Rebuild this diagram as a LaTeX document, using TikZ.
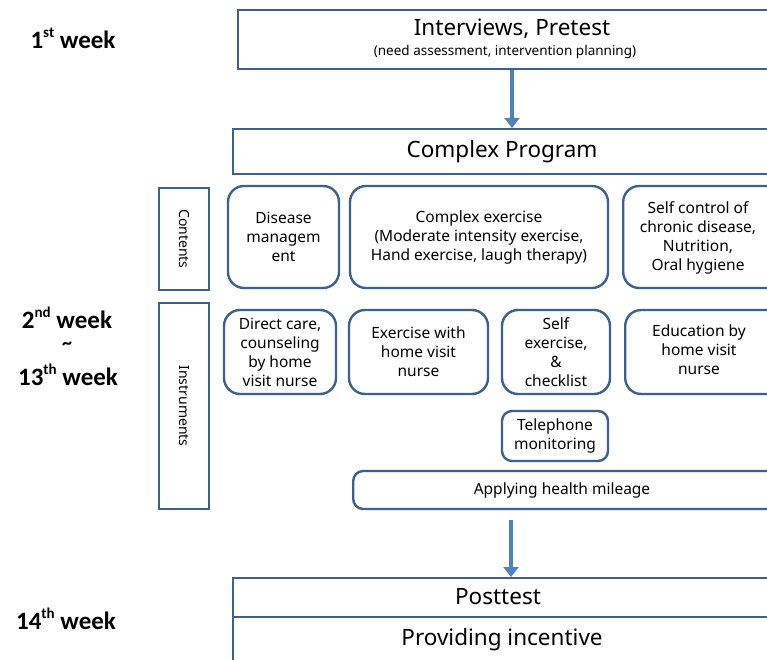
\documentclass[tikz,border=0pt]{standalone}
\usepackage{fontspec}
\setmainfont{Noto Sans}
\newfontfamily\weekfont{Carlito}
\usetikzlibrary{arrows.meta}
\definecolor{bord}{HTML}{3F5F8F}
\definecolor{arr}{HTML}{4F81BD}
\newcommand{\wsup}[1]{\raisebox{0.45em}{\fontsize{15}{15}\selectfont #1}}
\tikzset{
  sq/.style={draw=bord,line width=2.4pt,fill=white,inner sep=0pt},
  rbox/.style={draw=bord,line width=2.4pt,rounded corners=16pt,fill=white,inner sep=0pt,align=center,font=\fontsize{15.5}{19}\selectfont},
  btxt/.style={font=\fontsize{15.5}{19}\selectfont,align=center},
  wk/.style={font=\weekfont\bfseries\fontsize{25}{28}\selectfont,align=center,inner sep=0pt},
  flow/.style={draw=arr,line width=3.3pt,-{Triangle[length=10pt,width=15pt]}},
  side/.style={sq,font=\fontsize{14}{16}\selectfont,rotate=-90}
}
\begin{document}
\begin{tikzpicture}[x=1pt,y=-1pt]
\useasboundingbox (0,0) rectangle (767,660);
\clip (0,0) rectangle (767,660);
% week labels
\node[wk] (w1) at (73,38) {1\wsup{st} week};
\node[wk] (w2a) at (67,318) {2\wsup{nd} week};
\node[wk,font=\weekfont\bfseries\fontsize{20}{20}\selectfont] (w2b) at (67,346) {\textasciitilde};
\node[wk] (w2c) at (68,375) {13\wsup{th} week};
\node[wk] (w14) at (66,619) {14\wsup{th} week};
% top boxes
\node[sq,minimum width=560pt,minimum height=59pt,anchor=north west,align=center] (interv) at (237,9) {};
\node[font=\fontsize{22.5}{24}\selectfont] (intt) at (512,29) {Interviews, Pretest};
\node[font=\fontsize{13.5}{15}\selectfont] (ints) at (505,52) {(need assessment, intervention planning)};
\node[sq,minimum width=565pt,minimum height=45pt,anchor=north west] (cp) at (232,128) {};
\node[font=\fontsize{22.5}{24}\selectfont] (cpt) at (502,152) {Complex Program};
\draw[flow] (interv.south -| 512,0) -- (cp.north -| 512,0);
% side labels
\node[side,minimum width=102pt,minimum height=50pt] (cont) at (184,239) {Contents};
\node[side,minimum width=206pt,minimum height=50pt] (instr) at (184,406) {Instruments};
% contents row
\node[rbox,minimum width=111pt,minimum height=102pt] (dis) at (283.5,237) {Disease\\managem\\ent};
\node[rbox,minimum width=258pt,minimum height=102pt] (cex) at (479,237) {Complex exercise\\(Moderate intensity exercise,\\Hand exercise, laugh therapy)};
\node[rbox,minimum width=168pt,minimum height=102pt,anchor=west] (selfc) at (622,237) {};
\node[btxt] (selfct) at (698,238) {Self control of\\chronic disease,\\Nutrition,\\Oral hygiene};
% instruments row
\node[rbox,minimum width=112pt,minimum height=84pt] (dir) at (280,352) {Direct care,\\counseling\\by home\\visit nurse};
\node[rbox,minimum width=139pt,minimum height=84pt] (exh) at (418.5,352) {Exercise with\\home visit\\nurse};
\node[rbox,minimum width=108pt,minimum height=84pt] (sex) at (556,352) {Self\\exercise,\\\&\\checklist};
\node[rbox,minimum width=168pt,minimum height=84pt,anchor=west] (edu) at (624,352) {};
\node[btxt] (edut) at (699,350) {Education by\\home visit\\nurse};
\node[rbox,rounded corners=10pt,minimum width=106pt,minimum height=50pt] (tel) at (555,436) {Telephone\\monitoring};
\node[rbox,rounded corners=10pt,minimum width=440pt,minimum height=38pt,anchor=west] (mil) at (352,490) {};
\node[btxt] (milt) at (562,490) {Applying health mileage};
% bottom
\node[sq,minimum width=565pt,minimum height=100pt,anchor=north west] (post) at (232,577) {};
\draw[flow] (mil.south -| 511,0) ++(0,10) -- (post.north -| 511,0);
\draw[draw=bord,line width=2.4pt] (post.west |- 0,617) -- (post.east |- 0,617);
\node[font=\fontsize{22.5}{24}\selectfont] (postt) at (498,597) {Posttest};
\node[font=\fontsize{22.5}{24}\selectfont] (inc) at (502,640) {Providing incentive};
\end{tikzpicture}
\end{document}
